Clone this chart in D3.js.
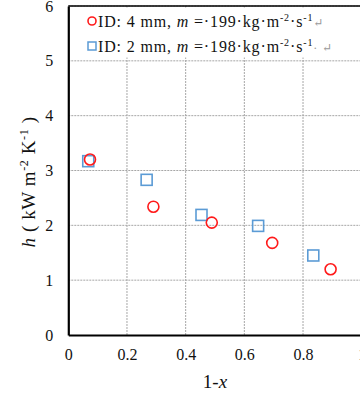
<!DOCTYPE html>
<html>
<head>
<meta charset="utf-8">
<script src="https://cdn.jsdelivr.net/npm/d3@7"></script>
<style>
  html, body { margin: 0; padding: 0; background: #fff; }
  svg { display: block; }
  svg text { font-family: "Liberation Serif", "DejaVu Serif", serif; }
</style>
</head>
<body>
<svg id="chart" width="360" height="394"></svg>
<script>
// Heat transfer coefficient h versus 1-x for two tube diameters
const xTicks = [0, 0.2, 0.4, 0.6, 0.8, 1];
const yTicks = [0, 1, 2, 3, 4, 5, 6];

const id4X = [0.074, 0.29, 0.489, 0.695, 0.894];
const id4H = [3.20, 2.34, 2.05, 1.68, 1.20];

const id2X = [0.068, 0.267, 0.454, 0.647, 0.835];
const id2H = [3.17, 2.83, 2.19, 1.99, 1.45];

const svg = d3.select("#chart");
const m = { left: 68.3, top: 6, right: 361.7, bottom: 335 };

const x = d3.scaleLinear().domain([0, 1]).range([m.left, m.right]);
const y = d3.scaleLinear().domain([0, 6]).range([m.bottom, m.top]);

// grid
const grid = svg.append("g").attr("stroke", "#a6a6a6").attr("stroke-width", 1)
  .attr("stroke-dasharray", "2,1");
grid.selectAll("line.h").data(yTicks.slice(1)).join("line")
  .attr("x1", m.left).attr("x2", m.right)
  .attr("y1", d => y(d)).attr("y2", d => y(d));
grid.selectAll("line.v").data(xTicks.slice(1)).join("line")
  .attr("x1", d => x(d)).attr("x2", d => x(d))
  .attr("y1", m.top).attr("y2", m.bottom);

// frame
svg.append("line").attr("x1", m.left).attr("x2", m.right).attr("y1", m.top).attr("y2", m.top)
  .attr("stroke", "#000").attr("stroke-width", 1.5);
svg.append("line").attr("x1", m.right).attr("x2", m.right).attr("y1", m.top).attr("y2", m.bottom)
  .attr("stroke", "#000").attr("stroke-width", 1.5);

// axes
const fmt = d3.format("~g");
const xAxis = d3.axisBottom(x).tickValues(xTicks).tickSize(0).tickPadding(14).tickFormat(fmt);
const gx = svg.append("g").attr("transform", `translate(0,${m.bottom})`).call(xAxis);
gx.attr("font-family", null);
gx.select(".domain").attr("stroke", "#000").attr("stroke-width", 2.2);
gx.selectAll("text").attr("font-size", 16).attr("fill", "#111");

const yAxis = d3.axisLeft(y).tickValues(yTicks).tickSize(0).tickPadding(15).tickFormat(fmt);
const gy = svg.append("g").attr("transform", `translate(${m.left},0)`).call(yAxis);
gy.attr("font-family", null);
gy.select(".domain").attr("stroke", "#000").attr("stroke-width", 2.2);
gy.selectAll("text").attr("font-size", 16).attr("fill", "#111");

// legend panel
svg.append("rect").attr("x", m.left + 2).attr("y", m.top + 1.5)
  .attr("width", 282).attr("height", 50).attr("fill", "#fff");

// data markers
const r = 5.5;
svg.append("g").selectAll("rect").data(id2X).join("rect")
  .attr("x", (d, i) => x(d) - r).attr("y", (d, i) => y(id2H[i]) - r)
  .attr("width", 2 * r).attr("height", 2 * r)
  .attr("fill", "none").attr("stroke", "#5b9bd5").attr("stroke-width", 1.6);
svg.append("g").selectAll("circle").data(id4X).join("circle")
  .attr("cx", d => x(d)).attr("cy", (d, i) => y(id4H[i])).attr("r", r)
  .attr("fill", "none").attr("stroke", "#ff1a1a").attr("stroke-width", 1.6);

// legend entries
const legend = svg.append("g");
legend.append("circle").attr("cx", 92).attr("cy", 21).attr("r", 4)
  .attr("fill", "none").attr("stroke", "#ff1a1a").attr("stroke-width", 1.6);
legend.append("rect").attr("x", 88).attr("y", 42).attr("width", 8).attr("height", 8)
  .attr("fill", "none").attr("stroke", "#5b9bd5").attr("stroke-width", 1.5);

function legendLine(yb, mass, tail) {
  const t = legend.append("text").attr("x", 98).attr("y", yb)
    .attr("font-size", 16).attr("fill", "#111").attr("letter-spacing", 0.85);
  t.append("tspan").text("ID: " + mass.d + " mm, ");
  t.append("tspan").attr("font-style", "italic").text("m");
  t.append("tspan").text(" =·" + mass.v + "·kg·m");
  t.append("tspan").attr("font-size", 10).attr("dy", -6).text("-2");
  t.append("tspan").attr("dy", 6).text("·s");
  t.append("tspan").attr("font-size", 10).attr("dy", -6).text("-1");
  t.append("tspan").attr("dy", 6).attr("fill", "#999").attr("font-size", 12).text(tail);
}
legendLine(27, { d: 4, v: 199 }, "↵");
legendLine(52, { d: 2, v: 198 }, "·  ↵");

// axis titles
svg.append("text").attr("x", 215).attr("y", 388).attr("text-anchor", "middle")
  .attr("font-size", 19).attr("fill", "#111")
  .call(t => {
    t.append("tspan").text("1-");
    t.append("tspan").attr("font-style", "italic").text("x");
  });

const yt = svg.append("text").attr("transform", "translate(35,182) rotate(-90)")
  .attr("text-anchor", "middle").attr("font-size", 19).attr("fill", "#111")
  .attr("letter-spacing", 0.6);
yt.append("tspan").attr("font-style", "italic").text("h");
yt.append("tspan").text(" ( kW m");
yt.append("tspan").attr("font-size", 12).attr("dy", -7).text("-2");
yt.append("tspan").attr("dy", 7).text(" K");
yt.append("tspan").attr("font-size", 12).attr("dy", -7).text("-1");
yt.append("tspan").attr("dy", 7).text(" )");
</script>
</body>
</html>
